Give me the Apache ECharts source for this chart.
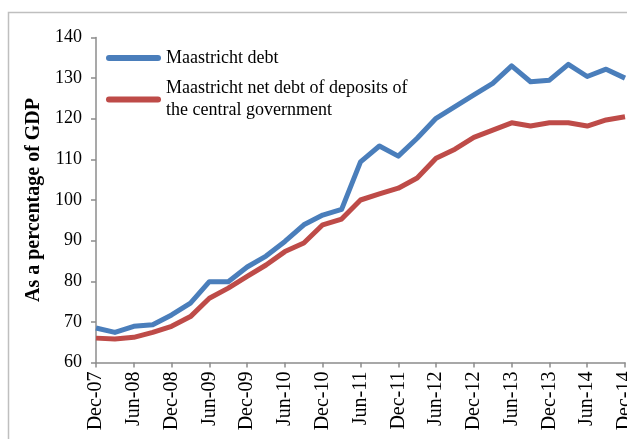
<!DOCTYPE html>
<html>
<head>
<meta charset="utf-8">
<script src="https://cdn.jsdelivr.net/npm/echarts@6/dist/echarts.min.js"></script>
<style>
html,body{margin:0;padding:0;background:#fff;}
#c{width:627px;height:439px;}
</style>
</head>
<body>
<div id="c"></div>
<script>
var quarters = ['Dec-07','Mar-08','Jun-08','Sep-08','Dec-08','Mar-09','Jun-09','Sep-09','Dec-09','Mar-10','Jun-10','Sep-10','Dec-10','Mar-11','Jun-11','Sep-11','Dec-11','Mar-12','Jun-12','Sep-12','Dec-12','Mar-13','Jun-13','Sep-13','Dec-13','Mar-14','Jun-14','Sep-14','Dec-14'];
var maastrichtDebt = [68.5,67.4,68.9,69.3,71.7,74.6,79.9,79.9,83.5,86.2,89.8,93.9,96.3,97.7,109.4,113.3,110.8,115.2,120.1,123.0,125.9,128.7,133.0,129.1,129.5,133.4,130.4,132.2,130.0];
var netDebt = [66.0,65.8,66.2,67.4,68.9,71.3,75.8,78.3,81.2,84.0,87.3,89.4,93.9,95.3,100.0,101.5,102.9,105.4,110.3,112.5,115.4,117.2,119.0,118.2,119.0,119.0,118.2,119.7,120.5];
var seriesNames = ['Maastricht debt','Maastricht net debt of deposits of the central government'];
var yAxisTitle = 'As a percentage of GDP';

var FONT = "'Liberation Serif','Times New Roman',serif";
var BLUE = '#4a7ebb', RED = '#be4b48', AXIS = '#8c8c8c';
var capsule = 'path://M3,0 H52 A3,3 0 0 1 52,6 H3 A3,3 0 0 1 3,0 Z';

var chart = echarts.init(document.getElementById('c'), null, {renderer:'canvas'});
chart.setOption({
  animation:false,
  backgroundColor:'#fff',
  graphic:[{type:'rect', shape:{x:8.5,y:12.5,width:700,height:600}, style:{fill:'none',stroke:'#bfbfbf',lineWidth:1.5}, silent:true}],
  grid:{left:96, right:2, top:37.5, bottom:76.5, containLabel:false, outerBoundsMode:'none'},
  legend:[
    {data:[seriesNames[0]], left:106, top:47, padding:0, itemWidth:55, itemHeight:6, itemGap:0, icon:capsule,
     textStyle:{fontFamily:FONT, fontSize:18, color:'#000', lineHeight:22}},
    {data:[seriesNames[1]], left:106, top:66.5, padding:0, itemWidth:55, itemHeight:6, itemGap:0, icon:capsule,
     formatter:function(n){return n.replace(' the central','\nthe central');},
     textStyle:{fontFamily:FONT, fontSize:18, color:'#000', lineHeight:22, padding:[22,0,0,0]}}
  ],
  xAxis:{type:'category', data:quarters, boundaryGap:false,
    axisLine:{lineStyle:{color:AXIS, width:1.5}},
    axisTick:{interval:1, length:5, lineStyle:{color:AXIS, width:1.5}},
    axisLabel:{interval:1, rotate:90, margin:9, color:'#000', fontFamily:FONT, fontSize:20, hideOverlap:false}
  },
  yAxis:{type:'value', min:60, max:140, interval:10,
    name:yAxisTitle, nameLocation:'middle', nameRotate:90, nameGap:50,
    nameTextStyle:{fontFamily:FONT, fontSize:20, fontWeight:'bold', color:'#000'},
    axisLine:{show:true, lineStyle:{color:AXIS, width:1.5}},
    axisTick:{show:true, length:5, lineStyle:{color:AXIS, width:1.5}},
    splitLine:{show:false},
    axisLabel:{margin:14, color:'#000', fontFamily:FONT, fontSize:18}
  },
  series:[
    {name:seriesNames[0], type:'line', data:maastrichtDebt, showSymbol:false, symbol:'none', color:BLUE,
     lineStyle:{color:BLUE, width:5, join:'round'}},
    {name:seriesNames[1], type:'line', data:netDebt, showSymbol:false, symbol:'none', color:RED,
     lineStyle:{color:RED, width:5, join:'round'}}
  ]
});
</script>
</body>
</html>
